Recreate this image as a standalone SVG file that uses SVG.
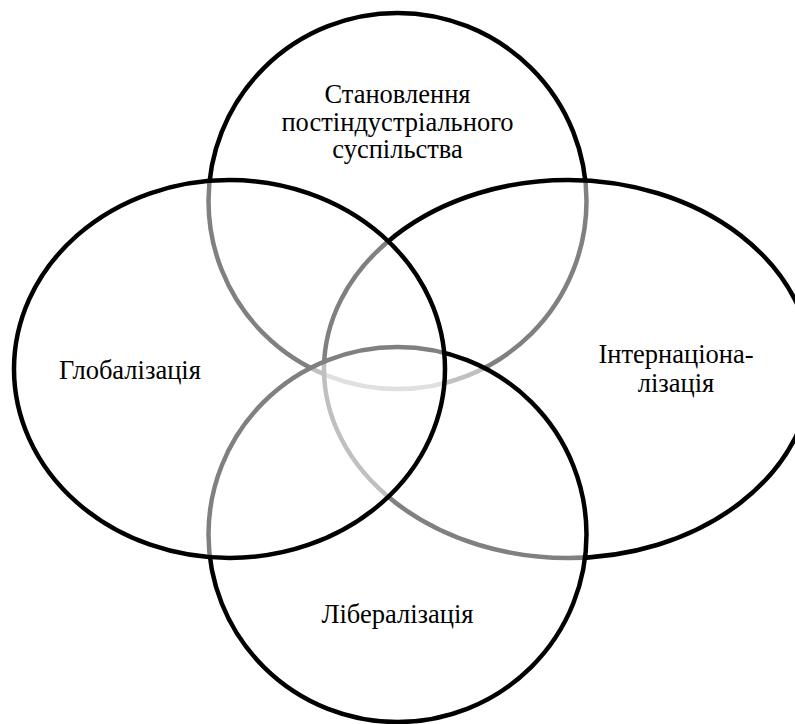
<svg xmlns="http://www.w3.org/2000/svg" width="795" height="724" viewBox="0 0 795 724">
<style>
.c{fill:#fff;fill-opacity:0.5;stroke:#000;stroke-width:4.5}
.t{font-family:"Liberation Serif","Times New Roman",serif;font-size:26.5px;fill:#000;text-anchor:middle}
</style>
<rect width="795" height="724" fill="#fff"/>
<g id="shapes">
<g id="node-top"><ellipse class="c" cx="397.5" cy="201" rx="189" ry="188"/></g>
<g id="node-right"><ellipse class="c" cx="568" cy="369" rx="244" ry="189"/></g>
<g id="node-bottom"><ellipse class="c" cx="397.5" cy="534.5" rx="189" ry="187.5"/></g>
<g id="node-left"><ellipse class="c" cx="229.5" cy="369" rx="215.5" ry="189"/></g>
</g>
<g id="labels">
<text class="t" x="397.5" y="103">Становлення</text>
<text class="t" x="397.5" y="130.5">постіндустріального</text>
<text class="t" x="397.5" y="158">суспільства</text>
<text class="t" x="130" y="379">Глобалізація</text>
<text class="t" x="676" y="363">Інтернаціона-</text>
<text class="t" x="676" y="392">лізація</text>
<text class="t" x="397.5" y="623">Лібералізація</text>
</g>
</svg>
